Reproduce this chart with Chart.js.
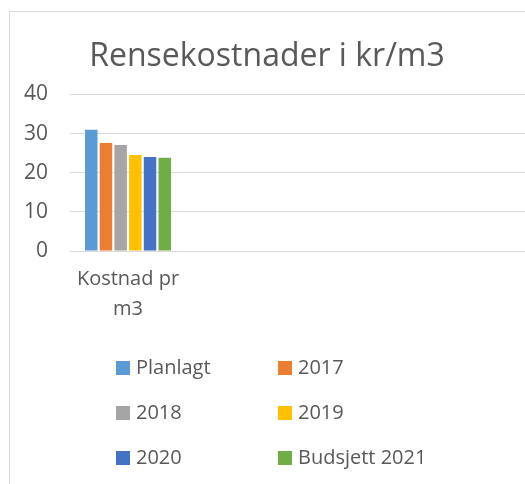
<!DOCTYPE html>
<html>
<head>
<meta charset="utf-8">
<script src="https://cdn.jsdelivr.net/npm/chart.js@4"></script>
<style>
  html, body { margin: 0; padding: 0; background: #fff; overflow: hidden; }
  #wrap { position: relative; width: 525px; height: 484px; overflow: hidden; }
  #frame { position: absolute; left: 9px; top: 11px; width: 600px; height: 520px;
           border: 1px solid #d9d9d9; box-sizing: border-box; }
  #c { position: absolute; left: 0; top: 0; }
</style>
</head>
<body>
<div id="wrap">
  <div id="frame"></div>
  <canvas id="c" width="540" height="484"></canvas>
</div>
<script>
// data
const categories = [['Kostnad pr', 'm3'], '', '', ''];
const seriesNames = ['Planlagt', '2017', '2018', '2019', '2020', 'Budsjett 2021'];
const costPerM3 = [31, 27.6, 27.1, 24.5, 24.0, 23.8];
const seriesColors = ['#5B9BD5', '#ED7D31', '#A5A5A5', '#FFC000', '#4472C4', '#70AD47'];
const yTicks = [0, 10, 20, 30, 40];

const textColor = '#595959';
const fontFam = '"Open Sans", sans-serif';

// legend i to kolonner, tegnet under plottet
const gridLegend = {
  id: 'gridLegend',
  afterDraw(chart) {
    const ctx = chart.ctx;
    const colX = [116, 278];
    const top = chart.chartArea.bottom + 117;
    ctx.save();
    ctx.font = '20px ' + fontFam;
    ctx.textBaseline = 'middle';
    ctx.textAlign = 'left';
    chart.data.datasets.forEach((ds, i) => {
      const x = colX[i % 2];
      const y = top + Math.floor(i / 2) * 45;
      ctx.fillStyle = ds.backgroundColor;
      ctx.fillRect(x, y - 7, 14, 14);
      ctx.fillStyle = textColor;
      ctx.fillText(ds.label, x + 20, y);
    });
    ctx.restore();
  }
};

new Chart(document.getElementById('c').getContext('2d'), {
  type: 'bar',
  data: {
    labels: categories,
    datasets: seriesNames.map((name, i) => ({
      label: name,
      data: [costPerM3[i]],
      backgroundColor: seriesColors[i],
      categoryPercentage: 0.76,
      barPercentage: 0.85
    }))
  },
  options: {
    responsive: false,
    animation: false,
    layout: { padding: { left: 0, right: 6, top: 0, bottom: 155 } },
    plugins: {
      legend: { display: false },
      tooltip: { enabled: false },
      title: {
        display: true,
        text: 'Rensekostnader i kr/m3',
        color: textColor,
        font: { family: fontFam, size: 32, weight: 'normal' },
        padding: { top: 38, bottom: 18 }
      }
    },
    scales: {
      x: {
        grid: { display: false },
        border: { color: '#d9d9d9', width: 1 },
        ticks: {
          color: textColor,
          font: { family: fontFam, size: 20, lineHeight: 1.5 },
          padding: 5,
          maxRotation: 0,
          autoSkip: false
        }
      },
      y: {
        min: 0,
        max: 40,
        afterFit(scale) { scale.width = 70; },
        afterBuildTicks(scale) { scale.ticks = yTicks.map(v => ({ value: v })); },
        grid: { color: '#d9d9d9', lineWidth: 1, drawTicks: false },
        border: { display: false },
        ticks: {
          color: textColor,
          font: { family: fontFam, size: 21 },
          padding: 22
        }
      }
    }
  },
  plugins: [gridLegend]
});
</script>
</body>
</html>
